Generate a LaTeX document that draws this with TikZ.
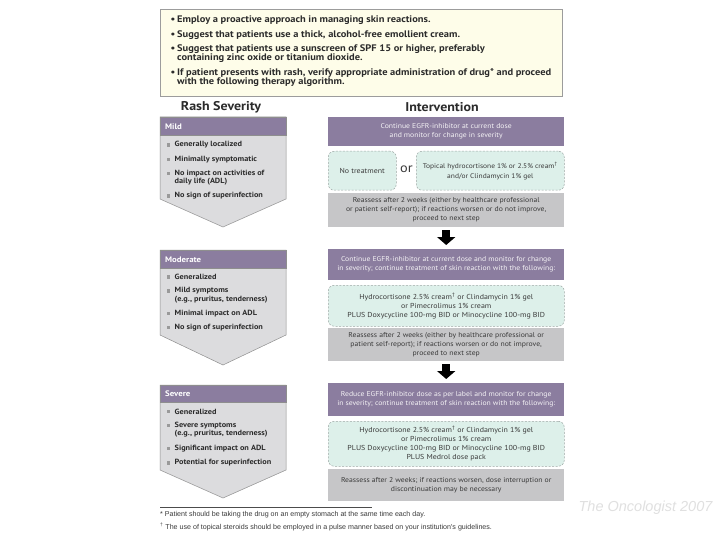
\documentclass[tikz,border=0pt]{standalone}
\usepackage{fontspec}
\setmainfont[FakeStretch=1.1]{PT Sans}
\newfontfamily\arialf{Liberation Sans}
\usetikzlibrary{arrows.meta}
\definecolor{purp}{HTML}{8B7D9F}
\definecolor{chevgray}{HTML}{DCDCDE}
\definecolor{chevline}{HTML}{8E8E8E}
\definecolor{tealfill}{HTML}{DDF0EA}
\definecolor{tealline}{HTML}{9DA8A5}
\definecolor{grayfill}{HTML}{C6C6C8}
\definecolor{creamfill}{HTML}{FEFDE9}
\definecolor{creamline}{HTML}{9C9C9C}
\definecolor{bulc}{HTML}{9A9A9A}
\definecolor{txtdark}{HTML}{2B2B2B}
\definecolor{txtmid}{HTML}{3A3A3A}
\newcommand\bitem[3]{\fill[bulc] (166.5,#2-1.8) rectangle (170.1,#2+1.8);
  \node[itemtxt] (#1) at (174.5,#2) {#3};}
\newcommand\citem[3]{\node[itemtxt] (#1) at (174.5,#2) {#3};}
\begin{document}
\begin{tikzpicture}[x=1pt,y=-1pt,
  toptxt/.style={anchor=west,inner sep=0,text=txtdark,font=\fontsize{9.5}{10}\selectfont\bfseries},
  headtxt/.style={inner sep=0,text=txtdark,font=\fontsize{12.7}{14}\selectfont\bfseries},
  sevhead/.style={anchor=west,inner sep=0,text=white,font=\fontsize{8}{10}\selectfont\bfseries},
  itemtxt/.style={anchor=west,inner sep=0,text=txtdark,font=\fontsize{7.5}{8}\selectfont\bfseries},
  boxbase/.style={anchor=north west,inner sep=0,align=center,font=\fontsize{7}{9}\selectfont},
  purpbox/.style={boxbase,fill=purp,text=white!90!purp},
  tealbox/.style={boxbase,fill=tealfill,draw=tealline,dash pattern=on 2pt off 1.5pt,line width=0.5pt,rounded corners=6pt,text=txtmid,font=\fontsize{7.2}{9}\selectfont},
  graybox/.style={boxbase,fill=grayfill,text=txtmid},
  chev/.style={fill=chevgray,draw=chevline,line width=0.5pt},
  bigarrow/.style={draw=black,line width=8pt,-{Triangle[width=18pt,length=8pt]},shorten <=3pt,shorten >=4pt},
  foot/.style={anchor=west,inner sep=0,text=txtmid,font=\arialf\fontsize{7.1}{8.5}\selectfont}]
\useasboundingbox (0,0) rectangle (720,540);
\fill[white] (0,0) rectangle (720,540);

% top box
\draw[fill=creamfill,draw=creamline,line width=0.6pt] (160,9) rectangle (562,96);
\node[toptxt] (b1) at (170.5,20) {\textbullet};
\node[toptxt] (t1) at (177,20) {Employ a proactive approach in managing skin reactions.};
\node[toptxt] (b2) at (170.5,35) {\textbullet};
\node[toptxt] (t2) at (177,35) {Suggest that patients use a thick, alcohol-free emollient cream.};
\node[toptxt] (b3) at (170.5,49.5) {\textbullet};
\node[toptxt] (t3) at (177,49.5) {Suggest that patients use a sunscreen of SPF 15 or higher, preferably};
\node[toptxt] (t3b) at (177,58.5) {containing zinc oxide or titanium dioxide.};
\node[toptxt] (b4) at (170.5,73.5) {\textbullet};
\node[toptxt] (t4) at (177,73.5) {If patient presents with rash, verify appropriate administration of drug* and proceed};
\node[toptxt] (t4b) at (177,82.5) {with the following therapy algorithm.};

% headings
\node[headtxt] (hrash) at (221,107) {Rash Severity};
\node[headtxt] (hint) at (442,107) {Intervention};

% Mild chevron
\draw[chev] (160,117) -- (286,117) -- (286,199) -- (223,227) -- (160,199) -- cycle;
\fill[purp] (160,117) rectangle (286,135);
\draw[chevline,line width=0.5pt] (160,117) rectangle (286,135);
\node[sevhead] (mild) at (165,126.5) {Mild};
\bitem{m1}{145}{Generally localized}
\bitem{m2}{159.5}{Minimally symptomatic}
\bitem{m3}{173.5}{No impact on activities of}
\citem{m3b}{182}{daily life (ADL)}
\bitem{m4}{196}{No sign of superinfection}

% Moderate chevron
\draw[chev] (160,250) -- (286,250) -- (286,335) -- (223,365) -- (160,335) -- cycle;
\fill[purp] (160,250) rectangle (286,268);
\draw[chevline,line width=0.5pt] (160,250) rectangle (286,268);
\node[sevhead] (mod) at (165,259.5) {Moderate};
\bitem{d1}{277}{Generalized}
\bitem{d2}{291}{Mild symptoms}
\citem{d2b}{299.5}{(e.g., pruritus, tenderness)}
\bitem{d3}{313.5}{Minimal impact on ADL}
\bitem{d4}{327.5}{No sign of superinfection}

% Severe chevron
\draw[chev] (160,385) -- (286,385) -- (286,470) -- (223,498) -- (160,470) -- cycle;
\fill[purp] (160,385) rectangle (286,402);
\draw[chevline,line width=0.5pt] (160,385) rectangle (286,402);
\node[sevhead] (sev) at (165,393.5) {Severe};
\bitem{s1}{411.5}{Generalized}
\bitem{s2}{425.5}{Severe symptoms}
\citem{s2b}{434}{(e.g., pruritus, tenderness)}
\bitem{s3}{448.5}{Significant impact on ADL}
\bitem{s4}{463}{Potential for superinfection}

% Intervention column
\node[purpbox,minimum width=236,minimum height=29] (p1) at (328,117)
  {Continue EGFR-inhibitor at current dose\\and monitor for change in severity};
\node[tealbox,minimum width=68,minimum height=39] (n1) at (328,151) {No treatment};
\node[inner sep=0,text=txtmid,font=\fontsize{13}{14}\selectfont] (or) at (406.5,169) {or};
\node[tealbox,minimum width=148,minimum height=39,font=\fontsize{6.8}{10}\selectfont] (n2) at (416,151)
  {Topical hydrocortisone 1\% or 2.5\% cream\textsuperscript{\dag}\\and/or Clindamycin 1\% gel};
\node[graybox,minimum width=236,minimum height=34] (g1) at (328,193)
  {Reassess after 2 weeks (either by healthcare professional\\or patient self-report); if reactions worsen or do not improve,\\proceed to next step};
\node[purpbox,minimum width=236,minimum height=31] (p2) at (328,249)
  {Continue EGFR-inhibitor at current dose and monitor for change\\in severity; continue treatment of skin reaction with the following:};
\node[tealbox,minimum width=236,minimum height=41] (n3) at (328,285)
  {Hydrocortisone 2.5\% cream\textsuperscript{\dag} or Clindamycin 1\% gel\\or Pimecrolimus 1\% cream\\PLUS Doxycycline 100-mg BID or Minocycline 100-mg BID};
\node[graybox,minimum width=236,minimum height=33] (g2) at (328,328)
  {Reassess after 2 weeks (either by healthcare professional or\\patient self-report); if reactions worsen or do not improve,\\proceed to next step};
\node[purpbox,minimum width=236,minimum height=33] (p3) at (328,383)
  {Reduce EGFR-inhibitor dose as per label and monitor for change\\in severity; continue treatment of skin reaction with the following:};
\node[tealbox,minimum width=236,minimum height=45] (n4) at (328,421)
  {Hydrocortisone 2.5\% cream\textsuperscript{\dag} or Clindamycin 1\% gel\\or Pimecrolimus 1\% cream\\PLUS Doxycycline 100-mg BID or Minocycline 100-mg BID\\PLUS Medrol dose pack};
\node[graybox,minimum width=236,minimum height=32] (g3) at (328,469)
  {Reassess after 2 weeks; if reactions worsen, dose interruption or\\discontinuation may be necessary};

\draw[bigarrow] (g1.south) -- (p2.north);
\draw[bigarrow] (g2.south) -- (p3.north);

% footnotes
\draw[black!70,line width=0.5pt] (160,507) -- (372,507);
\node[foot] (f1) at (160,515) {* Patient should be taking the drug on an empty stomach at the same time each day.};
\node[foot] (f2) at (160,527) {\textsuperscript{\dag} The use of topical steroids should be employed in a pulse manner based on your institution's guidelines.};

\node[inner sep=0,text=black!12,font=\arialf\itshape\fontsize{14.5}{16}\selectfont] (src) at (645.5,508) {The Oncologist 2007};
\end{tikzpicture}
\end{document}
